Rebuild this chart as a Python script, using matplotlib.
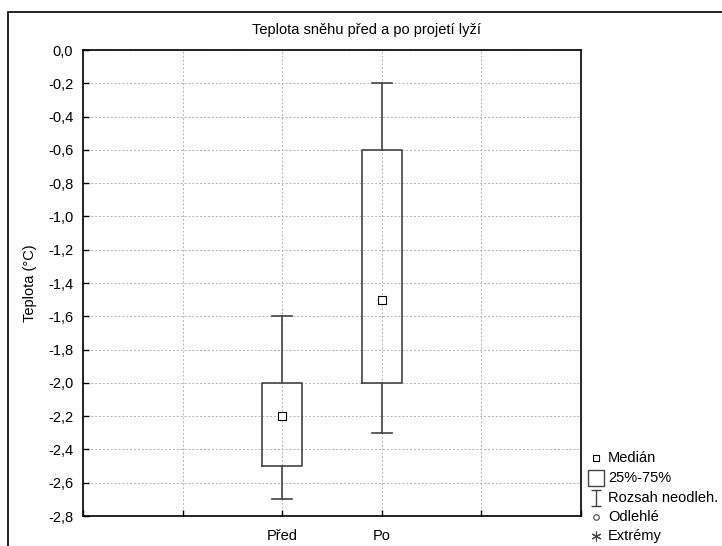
import matplotlib
matplotlib.use("Agg")
from matplotlib import pyplot as plt
from matplotlib.lines import Line2D
from matplotlib.patches import Rectangle
from matplotlib.path import Path
from matplotlib.ticker import FuncFormatter

plt.rcParams["font.family"] = ["Liberation Sans", "DejaVu Sans"]
plt.rcParams["font.size"] = 10.5

# data
labels = ["Před", "Po"]
positions = [2, 3]
q1 = [-2.5, -2.0]
med = [-2.2, -1.5]
q3 = [-2.0, -0.6]
whislo = [-2.7, -2.3]
whishi = [-1.6, -0.2]

stats = []
for i in range(len(labels)):
    stats.append({"label": labels[i], "q1": q1[i], "med": med[i], "q3": q3[i],
                  "whislo": whislo[i], "whishi": whishi[i], "mean": med[i],
                  "fliers": []})

fig = plt.figure(figsize=(7.22, 5.46), dpi=100)
ax = fig.add_axes([83 / 722, 30 / 546, 498 / 722, 466 / 546])

col = "#444444"
ax.bxp(stats, positions=positions, widths=0.4, capwidths=0.2,
       showmeans=True, showfliers=False,
       boxprops=dict(color=col, linewidth=1.2),
       whiskerprops=dict(color=col, linewidth=1.2),
       capprops=dict(color=col, linewidth=1.2),
       medianprops=dict(linestyle="none"),
       meanprops=dict(marker="s", markersize=6, markerfacecolor="white",
                      markeredgecolor="black", markeredgewidth=0.8))

ax.set_xlim(0, 5)
ax.set_ylim(-2.8, 0.0)
ax.set_xticks([0, 1, 2, 3, 4, 5])
ax.set_xticklabels(["", "", "Před", "Po", "", ""])
ax.set_yticks([-2.8 + 0.2 * k for k in range(15)])
ax.yaxis.set_major_formatter(FuncFormatter(
    lambda v, p: ("%.1f" % v).replace("-0.0", "0.0").replace(".", ",")))
ax.tick_params(direction="in", length=4, width=1, colors="black")
ax.tick_params(axis="x", pad=9)
ax.tick_params(axis="y", pad=7)
ax.grid(True, linestyle=(0, (2, 2)), color="#b4b4b4", linewidth=0.7)
for s in ax.spines.values():
    s.set_linewidth(1.2)
ax.set_axisbelow(True)

fig.text(0.508, 1 - 30 / 546, "Teplota sněhu před a po projetí lyží",
         ha="center", va="center", fontsize=10.5)
fig.text(30 / 722, 1 - 283 / 546, "Teplota (°C)", rotation=90,
         ha="center", va="center", fontsize=10.5)

# outer frame
fig.add_artist(Rectangle((8 / 722, -0.05), 1.0, 1.05 - 12 / 546,
                         transform=fig.transFigure, fill=False,
                         edgecolor="black", linewidth=1.2))

# legend, placed by hand
whisk = Path([(-0.6, 1), (0.6, 1), (0, 1), (0, -1), (-0.6, -1), (0.6, -1)],
             [Path.MOVETO, Path.LINETO, Path.MOVETO, Path.LINETO,
              Path.MOVETO, Path.LINETO])
names = ["Medián", "25%-75%", "Rozsah neodleh.", "Odlehlé", "Extrémy"]
styles = [
    dict(marker="s", markersize=5, markerfacecolor="white",
         markeredgecolor="black", markeredgewidth=0.8),
    dict(marker="s", markersize=12, markerfacecolor="white",
         markeredgecolor="#444444", markeredgewidth=1),
    dict(marker=whisk, markersize=12, markerfacecolor="none",
         markeredgecolor="#444444", markeredgewidth=1),
    dict(marker="o", markersize=4, markerfacecolor="white",
         markeredgecolor="#444444", markeredgewidth=0.8),
    dict(marker=(6, 2, 0), markersize=7, markeredgecolor="#444444",
         markeredgewidth=0.8),
]
rows = [458, 478, 498, 517, 536]
for name, st, yy in zip(names, styles, rows):
    fy = 1 - yy / 546
    fig.add_artist(Line2D([596 / 722], [fy], linestyle="none",
                          transform=fig.transFigure, **st))
    fig.text(608 / 722, fy, name, ha="left", va="center", fontsize=10.5)

fig.savefig("out.png", dpi=100)
